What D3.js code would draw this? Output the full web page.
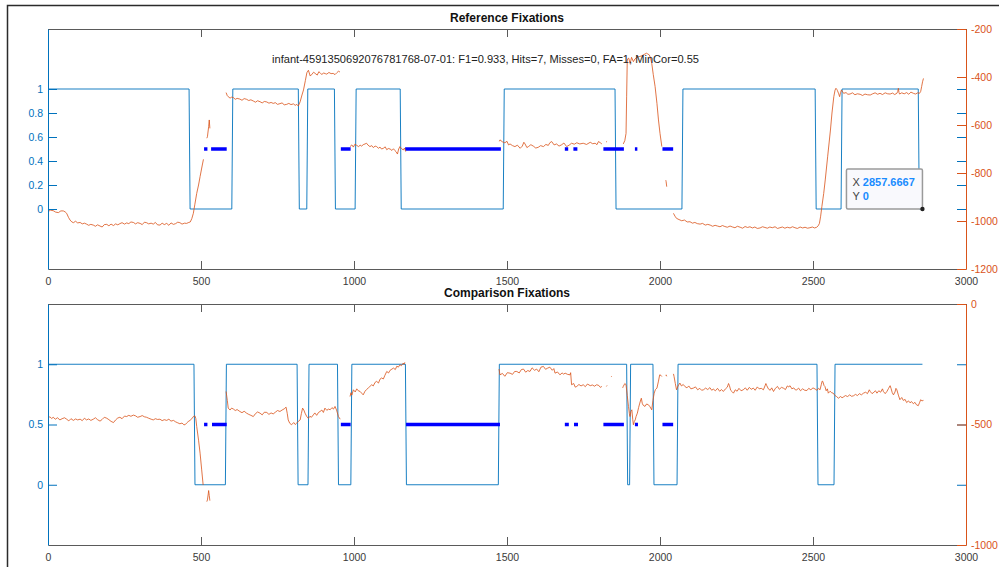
<!DOCTYPE html>
<html><head><meta charset="utf-8">
<script src="https://cdn.jsdelivr.net/npm/d3@7"></script>
<style>
html,body{margin:0;padding:0;background:#fff;}
svg{display:block;font-family:"Liberation Sans",Arial,Helvetica,sans-serif;}
</style></head>
<body>
<svg id="chart" width="999" height="567"></svg>
<script>
// ---------------- DATA ----------------
const xTicks = [0, 500, 1000, 1500, 2000, 2500, 3000];
const refLeftTicks = [0, 0.2, 0.4, 0.6, 0.8, 1];
const refRightTicks = [-200, -400, -600, -800, -1000, -1200];
const compLeftTicks = [0, 0.5, 1];
const compRightTicks = [0, -500, -1000];

const tEnd = 2857.6667;
const sampleDt = 3.333;

// fixation intervals (value 1) – reference
const refFixOn  = [0, 604, 849, 1007, 1491, 2075, 2595];
const refFixOff = [461, 818, 936, 1151, 1853, 2507, 2844];
// fixation intervals (value 1) – comparison
const compFixOn  = [0, 583, 853, 993, 1475, 1904, 2059, 2572];
const compFixOff = [477, 814, 946, 1168, 1891, 1977, 2513, 2858];

// blue marker runs at y = 0.5
const refDotStart = [510, 533, 957, 1167, 1689, 1717, 1815, 1918, 2008];
const refDotEnd   = [521, 584, 989, 1480, 1700, 1730, 1882, 1926, 2043];
const compDotStart = [510, 536, 957, 1170, 1689, 1719, 1815, 1918, 2008];
const compDotEnd   = [521, 584, 989, 1477, 1702, 1732, 1882, 1928, 2043];

// gaze traces (right axis); null = gap
const refGaze = [
[0,-961],[8,-955],[17,-957],[25,-963],[34,-965],[42,-958],[50,-958],[56,-962],[61,-968],[67,-985],[72,-996],[78,-1004],[83,-1007],[90,-1001],[97,-1008],[105,-1006],[112,-1012],[119,-1009],[126,-1013],[133,-1018],[140,-1014],[148,-1017],[155,-1022],[162,-1016],[170,-1021],[177,-1025],[184,-1015],[192,-1014],[199,-1020],[206,-1013],[214,-1019],[221,-1012],[228,-1016],[235,-1011],[242,-1007],[250,-1013],[257,-1008],[264,-1011],[271,-1004],[279,-1006],[286,-1012],[293,-1007],[301,-1010],[308,-1015],[315,-1005],[322,-1007],[329,-1012],[337,-1009],[344,-1013],[351,-1006],[358,-1016],[366,-1017],[373,-1009],[380,-1015],[388,-1010],[395,-1018],[402,-1008],[410,-1014],[417,-1011],[424,-1005],[431,-1007],[438,-1013],[446,-1009],[453,-1010],[460,-1006],[465,-1004],[470,-990],[475,-968],[480,-930],[486,-885],[492,-850],[497,-815],[503,-775],[508,-743],null,
[519,-655],[521,-649],[525,-607],[527,-579],[529,-614],null,
[582,-465],[586,-478],[589,-482],[595,-488],[600,-484],[606,-486],[612,-493],[618,-489],[627,-492],[634,-497],[641,-490],[649,-493],[656,-498],[663,-495],[671,-500],[678,-505],[685,-499],[693,-503],[700,-508],[707,-502],[715,-504],[722,-509],[729,-506],[736,-510],[743,-507],[750,-514],[758,-511],[765,-508],[772,-516],[780,-514],[787,-510],[794,-515],[802,-512],[808,-518],[813,-514],[818,-521],[824,-503],[830,-475],[835,-454],[841,-415],[846,-382],[851,-372],[857,-396],[863,-388],[868,-380],[873,-385],[880,-392],[885,-378],[889,-382],[895,-390],[900,-383],[906,-386],[911,-388],[918,-381],[925,-386],[932,-385],[938,-390],[944,-382],[949,-376],[954,-379],null,
[987,-690],[993,-683],[998,-692],[1003,-680],[1009,-685],[1015,-690],[1020,-684],[1025,-688],[1030,-682],[1036,-679],[1041,-676],[1046,-684],[1052,-690],[1058,-686],[1063,-694],[1069,-688],[1074,-690],[1080,-697],[1085,-692],[1090,-700],[1096,-697],[1102,-691],[1107,-703],[1112,-698],[1118,-700],[1124,-706],[1129,-699],[1134,-707],[1138,-712],[1142,-721],[1146,-700],[1150,-690],[1155,-698],[1161,-704],[1165,-696],[1169,-711],null,
[1475,-668],[1477,-662],[1485,-670],[1493,-674],[1500,-668],[1505,-683],[1510,-679],[1518,-686],[1526,-690],[1534,-684],[1543,-697],[1550,-688],[1555,-672],[1559,-679],[1565,-694],[1570,-690],[1578,-682],[1586,-688],[1594,-696],[1602,-693],[1610,-686],[1619,-690],[1627,-681],[1635,-685],[1640,-674],[1646,-669],[1654,-683],[1662,-679],[1670,-688],[1679,-682],[1686,-675],[1695,-690],[1703,-684],[1711,-676],[1720,-680],[1728,-674],[1738,-679],[1749,-676],[1760,-681],[1772,-672],[1780,-678],[1788,-676],[1794,-682],[1799,-669],[1805,-674],[1810,-679],null,
[1824,-671],[1827,-668],null,
[1880,-679],[1885,-665],[1889,-635],[1891,-480],[1893,-329],[1896,-322],[1898,-322],[1902,-343],[1905,-330],[1907,-318],[1913,-336],[1918,-325],[1924,-318],[1932,-315],[1940,-312],[1948,-306],[1956,-301],[1960,-304],[1965,-308],[1969,-320],[1973,-343],[1978,-390],[1984,-440],[1990,-510],[1995,-579],[2000,-635],[2006,-690],null,
[2019,-830],[2020,-836],[2022,-857],null,
[2044,-968],[2049,-980],[2054,-989],[2062,-994],[2071,-999],[2080,-996],[2089,-1004],[2098,-1003],[2106,-1009],[2114,-1006],[2122,-1011],[2131,-1013],[2139,-1010],[2148,-1017],[2156,-1014],[2164,-1017],[2172,-1022],[2180,-1018],[2188,-1021],[2196,-1024],[2204,-1019],[2212,-1023],[2220,-1026],[2229,-1021],[2237,-1025],[2245,-1028],[2253,-1022],[2262,-1026],[2270,-1030],[2278,-1023],[2286,-1027],[2294,-1024],[2302,-1029],[2310,-1025],[2318,-1031],[2327,-1029],[2335,-1024],[2343,-1027],[2351,-1030],[2359,-1025],[2367,-1028],[2376,-1024],[2384,-1031],[2392,-1028],[2400,-1025],[2408,-1030],[2416,-1026],[2425,-1029],[2433,-1024],[2441,-1028],[2449,-1031],[2458,-1025],[2466,-1029],[2474,-1026],[2482,-1030],[2490,-1028],[2498,-1025],[2505,-1029],[2512,-1026],[2517,-1020],[2521,-1010],[2525,-980],[2529,-940],[2535,-885],[2540,-829],[2548,-730],[2557,-621],[2562,-550],[2568,-482],[2572,-455],[2575,-447],[2578,-452],[2580,-457],[2584,-470],[2587,-482],[2590,-465],[2593,-454],[2597,-462],[2600,-468],[2608,-465],[2614,-472],[2621,-471],[2629,-466],[2637,-474],[2645,-470],[2654,-472],[2662,-477],[2670,-471],[2678,-474],[2687,-475],[2695,-470],[2703,-466],[2711,-472],[2719,-468],[2727,-473],[2736,-466],[2744,-470],[2752,-471],[2760,-467],[2767,-473],[2774,-468],[2777,-460],[2779,-447],[2781,-465],[2783,-471],[2790,-466],[2798,-470],[2806,-465],[2813,-472],[2820,-463],[2828,-468],[2835,-471],[2842,-466],[2848,-468],[2852,-460],[2855,-440],[2858,-420],[2861,-406]
];

const compGaze = [
[0,-474],[6,-468],[12,-475],[17,-470],[24,-478],[31,-472],[39,-481],[46,-476],[54,-472],[61,-478],[68,-485],[75,-476],[83,-483],[90,-477],[97,-481],[105,-478],[112,-484],[119,-474],[126,-481],[133,-477],[140,-483],[148,-478],[155,-472],[162,-480],[170,-486],[177,-479],[184,-470],[192,-474],[199,-480],[206,-487],[214,-492],[221,-481],[228,-473],[235,-470],[242,-476],[250,-465],[257,-467],[264,-462],[271,-466],[279,-461],[286,-464],[293,-470],[301,-467],[308,-463],[315,-468],[322,-470],[329,-474],[337,-478],[344,-481],[351,-476],[358,-479],[366,-478],[373,-484],[380,-480],[388,-483],[395,-478],[402,-486],[410,-483],[417,-489],[424,-493],[431,-497],[438,-494],[444,-501],[448,-501],[453,-494],[458,-488],[464,-483],[470,-476],[475,-467],[480,-464],[483,-475],[486,-508],[492,-565],[497,-619],[502,-685],[507,-751],null,
[519,-820],[521,-813],[524,-785],[525,-774],[527,-795],[529,-816],null,
[582,-363],[586,-400],[589,-432],[595,-440],[600,-432],[606,-436],[612,-442],[618,-438],[627,-446],[634,-451],[641,-445],[649,-453],[656,-458],[663,-462],[671,-467],[678,-455],[685,-448],[693,-453],[700,-460],[707,-449],[715,-450],[722,-458],[729,-452],[736,-456],[743,-449],[750,-442],[758,-446],[765,-440],[772,-435],[778,-428],[782,-455],[785,-481],[790,-495],[796,-501],[803,-492],[808,-500],[813,-494],[818,-487],[824,-481],[828,-455],[832,-432],[836,-440],[840,-453],[846,-468],[851,-474],[856,-466],[861,-470],[867,-460],[872,-452],[878,-462],[884,-450],[889,-446],[895,-440],[900,-450],[905,-432],[911,-441],[917,-436],[922,-439],[928,-430],[933,-436],[938,-425],[943,-440],[949,-467],[955,-478],null,
[987,-384],[990,-368],[993,-378],[998,-356],[1004,-365],[1009,-352],[1014,-360],[1020,-363],[1025,-370],[1030,-377],[1036,-362],[1041,-355],[1047,-348],[1052,-342],[1058,-335],[1063,-340],[1069,-325],[1074,-321],[1080,-328],[1085,-312],[1090,-307],[1096,-311],[1101,-296],[1107,-280],[1113,-286],[1118,-275],[1124,-270],[1129,-266],[1135,-272],[1140,-258],[1145,-262],[1150,-252],[1155,-256],[1161,-245],[1164,-250],[1166,-242],null,
[1474,-270],[1477,-294],[1485,-288],[1493,-300],[1501,-285],[1510,-287],[1518,-292],[1525,-280],[1532,-280],[1540,-286],[1547,-272],[1554,-270],[1561,-283],[1568,-276],[1575,-280],[1582,-265],[1590,-275],[1597,-270],[1604,-281],[1611,-262],[1619,-259],[1626,-271],[1633,-266],[1640,-262],[1648,-275],[1653,-268],[1657,-287],[1665,-282],[1673,-294],[1680,-286],[1685,-291],[1690,-287],[1698,-292],[1706,-294],[1708,-285],[1711,-335],[1718,-330],[1723,-345],[1728,-342],[1735,-334],[1742,-340],[1749,-335],[1756,-343],[1763,-332],[1772,-339],[1779,-336],[1786,-341],[1793,-335],[1800,-338],[1805,-346],[1810,-342],null,
[1825,-342],[1827,-338],null,
[1840,-303],[1842,-300],null,
[1878,-348],[1880,-342],[1885,-330],[1889,-335],[1893,-380],[1897,-425],[1900,-455],[1902,-467],[1905,-445],[1908,-439],[1911,-480],[1913,-501],[1916,-488],[1919,-481],[1922,-466],[1926,-453],[1930,-430],[1934,-411],[1937,-398],[1939,-391],[1942,-412],[1945,-420],[1951,-425],[1956,-415],[1962,-418],[1967,-426],[1973,-439],[1977,-400],[1981,-370],[1985,-355],[1990,-349],[1995,-320],[1999,-294],[2003,-296],[2006,-301],null,
[2019,-296],[2020,-294],[2022,-300],null,
[2044,-290],[2046,-301],[2050,-330],[2054,-356],[2059,-340],[2065,-328],[2070,-340],[2076,-334],[2081,-342],[2088,-348],[2094,-340],[2101,-352],[2109,-349],[2116,-344],[2123,-356],[2130,-350],[2136,-358],[2142,-356],[2149,-349],[2156,-355],[2163,-347],[2169,-358],[2174,-353],[2181,-360],[2188,-350],[2195,-362],[2201,-355],[2207,-363],[2214,-352],[2220,-345],[2224,-330],[2227,-339],[2231,-358],[2236,-364],[2240,-370],[2246,-356],[2252,-362],[2258,-350],[2265,-360],[2272,-356],[2279,-348],[2285,-358],[2292,-346],[2298,-354],[2305,-349],[2311,-358],[2318,-344],[2324,-352],[2331,-350],[2338,-356],[2343,-340],[2346,-330],[2349,-339],[2354,-352],[2360,-358],[2365,-348],[2371,-363],[2377,-350],[2384,-342],[2390,-354],[2397,-346],[2403,-349],[2410,-355],[2416,-340],[2421,-344],[2425,-339],[2431,-352],[2437,-348],[2443,-357],[2447,-356],[2453,-349],[2459,-360],[2466,-352],[2473,-358],[2480,-359],[2486,-350],[2493,-356],[2500,-348],[2507,-353],[2513,-358],[2518,-350],[2523,-356],[2527,-335],[2530,-320],[2532,-321],[2536,-338],[2539,-342],[2543,-360],[2547,-352],[2550,-370],[2556,-362],[2561,-368],[2566,-370],[2572,-380],[2577,-384],[2583,-391],[2590,-384],[2595,-389],[2599,-386],[2606,-380],[2613,-384],[2620,-377],[2626,-383],[2632,-381],[2639,-375],[2645,-380],[2652,-372],[2658,-377],[2665,-370],[2672,-366],[2678,-372],[2684,-356],[2687,-363],[2693,-372],[2699,-366],[2704,-360],[2709,-370],[2715,-360],[2721,-366],[2727,-352],[2730,-363],[2736,-372],[2742,-362],[2747,-350],[2752,-339],[2755,-350],[2759,-368],[2763,-377],[2768,-365],[2771,-350],[2774,-356],[2779,-378],[2784,-397],[2790,-388],[2795,-400],[2801,-396],[2806,-409],[2812,-402],[2817,-410],[2822,-405],[2828,-414],[2833,-408],[2838,-418],[2844,-422],[2848,-410],[2852,-397],[2856,-402],[2861,-400]
];

const refTitle = "Reference Fixations";
const compTitle = "Comparison Fixations";
const infoText = "infant-4591350692076781768-07-01: F1=0.933, Hits=7, Misses=0, FA=1, MinCor=0.55";
const tipX = 2857.6667, tipY = 0;

// ---------------- DRAWING ----------------
const BLUE = "#0072BD", ORANGE = "#D95319", AXC = "#5a5a5a", DOT = "#0000FF";
const svg = d3.select("#chart");

svg.append("path").attr("d", "M7.5,567 V5.5 H999").attr("fill", "none").attr("stroke", "#2b2b2b").attr("stroke-width", 1.5);

const x = d3.scaleLinear().domain([0, 3000]).range([48, 966]);

function stepPoints(on, off) {
  const pts = [];
  for (let i = 0; i < on.length; i++) {
    if (on[i] > 0) pts.push([on[i] - sampleDt, 0]);
    pts.push([on[i], 1]);
    const e = Math.min(off[i], tEnd);
    pts.push([e, 1]);
    if (off[i] < tEnd) pts.push([off[i] + sampleDt, 0]);
  }
  if (pts[pts.length - 1][0] < tEnd) pts.push([tEnd, pts[pts.length - 1][1]]);
  return pts;
}

function panel(cfg) {
  const g = svg.append("g");
  const yL = d3.scaleLinear().domain([-0.5, 1.5]).range([cfg.bottom, cfg.top]);
  const yR = d3.scaleLinear().domain(cfg.rDomain).range([cfg.bottom, cfg.top]);

  const line = d3.line().x(d => x(d[0])).y(d => yL(d[1]));
  g.append("path").datum(stepPoints(cfg.on, cfg.off)).attr("d", line)
    .attr("fill", "none").attr("stroke", BLUE).attr("stroke-width", 1).attr("stroke-opacity", 0.9);

  g.selectAll("line.dot").data(d3.zip(cfg.dotS, cfg.dotE)).join("line")
    .attr("x1", d => x(d[0])).attr("x2", d => x(d[1]))
    .attr("y1", yL(0.5)).attr("y2", yL(0.5))
    .attr("stroke", DOT).attr("stroke-width", 3.5);

  const gl = d3.line().defined(d => d !== null).x(d => x(d[0])).y(d => yR(d[1]));
  g.append("path").datum(cfg.gaze).attr("d", gl)
    .attr("fill", "none").attr("stroke", ORANGE).attr("stroke-width", 1).attr("stroke-opacity", 0.8)
    .attr("stroke-linejoin", "round");

  const xb = g.append("g").attr("transform", `translate(0,${cfg.bottom})`)
    .call(d3.axisBottom(x).tickValues(xTicks).tickSize(-8).tickSizeOuter(0).tickPadding(9).tickFormat(d3.format("d")));
  const xt = g.append("g").attr("transform", `translate(0,${cfg.top})`)
    .call(d3.axisTop(x).tickValues(xTicks).tickSize(-8).tickSizeOuter(0).tickFormat(""));
  [xb, xt].forEach(a => {
    a.selectAll("path,line").attr("stroke", AXC);
    a.selectAll("text").attr("fill", "#3a3a3a").attr("font-size", 10.5).attr("font-family", null);
  });

  const rb = g.append("g").attr("transform", `translate(966,0)`)
    .call(d3.axisRight(yL).tickValues(cfg.lTicks).tickSize(-9).tickSizeOuter(0).tickFormat(""));
  rb.select(".domain").remove();
  rb.selectAll("line").attr("stroke", BLUE);

  const la = g.append("g").attr("transform", `translate(48,0)`)
    .call(d3.axisLeft(yL).tickValues(cfg.lTicks).tickSize(-9).tickSizeOuter(0).tickPadding(5).tickFormat(d => String(d)));
  la.selectAll("path,line").attr("stroke", BLUE);
  la.selectAll("text").attr("fill", BLUE).attr("font-size", 10.5).attr("font-family", null);

  const ra = g.append("g").attr("transform", `translate(966,0)`)
    .call(d3.axisRight(yR).tickValues(cfg.rTicks).tickSize(-9).tickSizeOuter(0).tickPadding(5).tickFormat(d => String(d)));
  ra.selectAll("path,line").attr("stroke", ORANGE);
  ra.selectAll("text").attr("fill", ORANGE).attr("font-size", 10.5).attr("font-family", null);

  g.append("text").attr("x", (x.range()[0] + x.range()[1]) / 2).attr("y", cfg.top - 7)
    .attr("text-anchor", "middle").attr("font-weight", "bold").attr("font-size", 12).attr("fill", "#111")
    .text(cfg.title);
  return { g, yL, yR };
}

const refPanel = panel({ top: 29, bottom: 269, rDomain: [-1200, -200], lTicks: refLeftTicks, rTicks: refRightTicks,
  on: refFixOn, off: refFixOff, dotS: refDotStart, dotE: refDotEnd, gaze: refGaze, title: refTitle });
panel({ top: 304, bottom: 545, rDomain: [-1000, 0], lTicks: compLeftTicks, rTicks: compRightTicks,
  on: compFixOn, off: compFixOff, dotS: compDotStart, dotE: compDotEnd, gaze: compGaze, title: compTitle });

svg.append("text").attr("x", 272).attr("y", 63).attr("font-size", 10.5).attr("fill", "#222")
  .attr("textLength", 427).attr("lengthAdjust", "spacingAndGlyphs").text(infoText);

const tx = x(tipX), ty = refPanel.yL(tipY);
const tip = svg.append("g");
tip.append("rect").attr("x", tx - 76).attr("y", ty - 40).attr("width", 76).attr("height", 40)
  .attr("fill", "#f9f9fd").attr("stroke", "#9a9a9a").attr("stroke-width", 1.5).attr("rx", 1.5);
const t1 = tip.append("text").attr("x", tx - 70).attr("y", ty - 23).attr("font-size", 11);
t1.append("tspan").attr("fill", "#444").text("X ");
t1.append("tspan").attr("fill", "#1a8cff").attr("font-weight", "bold").text(tipX.toFixed(4));
const t2 = tip.append("text").attr("x", tx - 70).attr("y", ty - 9).attr("font-size", 11);
t2.append("tspan").attr("fill", "#444").text("Y ");
t2.append("tspan").attr("fill", "#1a8cff").attr("font-weight", "bold").text(String(tipY));
tip.append("circle").attr("cx", tx).attr("cy", ty).attr("r", 2.2).attr("fill", "#222");
</script>
</body></html>
